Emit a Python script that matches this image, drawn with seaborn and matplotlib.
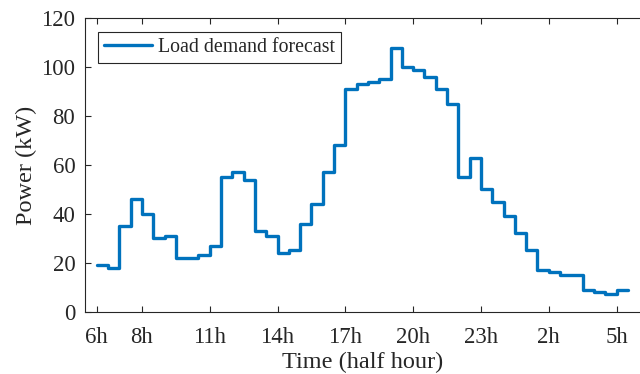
import numpy as np
import pandas as pd
import matplotlib
matplotlib.use("Agg")
import matplotlib.pyplot as plt
import seaborn as sns

# half-hour slots starting 6h
load_kw = [19, 18, 35, 46, 40, 30, 31, 22, 22, 23, 27, 55, 57, 54, 33, 31,
           24, 25, 36, 44, 57, 68, 91, 93, 94, 95, 108, 100, 99, 96, 91, 85,
           55, 63, 50, 45, 39, 32, 25, 17, 16, 15, 15, 9, 8, 7, 9, 9]
tick_slots = [0, 4, 10, 16, 22, 28, 34, 40, 46]
tick_labels = ["6h", "8h", "11h", "14h", "17h", "20h", "23h", "2h", "5h"]
y_ticks = [0, 20, 40, 60, 80, 100, 120]

sns.set_style("ticks")
plt.rcParams['font.family'] = ['Liberation Serif', 'DejaVu Serif']
plt.rcParams['mathtext.fontset'] = 'stix'

dark = "#262626"
df = pd.DataFrame({"slot": np.arange(len(load_kw)), "load": load_kw})

fig = plt.figure(figsize=(6.4, 3.74), dpi=100)
ax = fig.add_axes([85 / 640, 1 - 311.5 / 374, 1 - 85 / 640, (311.5 - 18.3) / 374])

sns.lineplot(data=df, x="slot", y="load", ax=ax, drawstyle="steps-post",
             color="#0072BD", linewidth=2.4, label="Load demand forecast")

ax.set_xlim(-1.04, 47.0 + (640 - 627.9) / 11.3)
ax.set_ylim(0, 120)
ax.set_xticks(tick_slots)
ax.set_xticklabels(tick_labels)
ax.set_yticks(y_ticks)
ax.tick_params(direction="in", length=4, width=0.8, colors=dark,
               labelsize=16.4, top=True, right=False, pad=7)
ax.tick_params(axis="x", pad=11)
for s in ["left", "bottom", "top"]:
    ax.spines[s].set_visible(True)
    ax.spines[s].set_color(dark)
    ax.spines[s].set_linewidth(0.8)
ax.spines["right"].set_visible(False)

ax.set_xlabel("Time (half hour)", fontsize=17.5, color=dark, labelpad=3)
ax.set_ylabel("Power (kW)", fontsize=17.5, color=dark, labelpad=3)

leg = ax.legend(loc="upper left", bbox_to_anchor=(0.024, 0.954), borderaxespad=0,
                fancybox=False, framealpha=1, edgecolor=dark, fontsize=14.3,
                handlelength=2.4, handletextpad=0.3, borderpad=0.3)
leg.get_frame().set_linewidth(0.8)
for t in leg.get_texts():
    t.set_color(dark)

fig.savefig("out.png", dpi=100)
